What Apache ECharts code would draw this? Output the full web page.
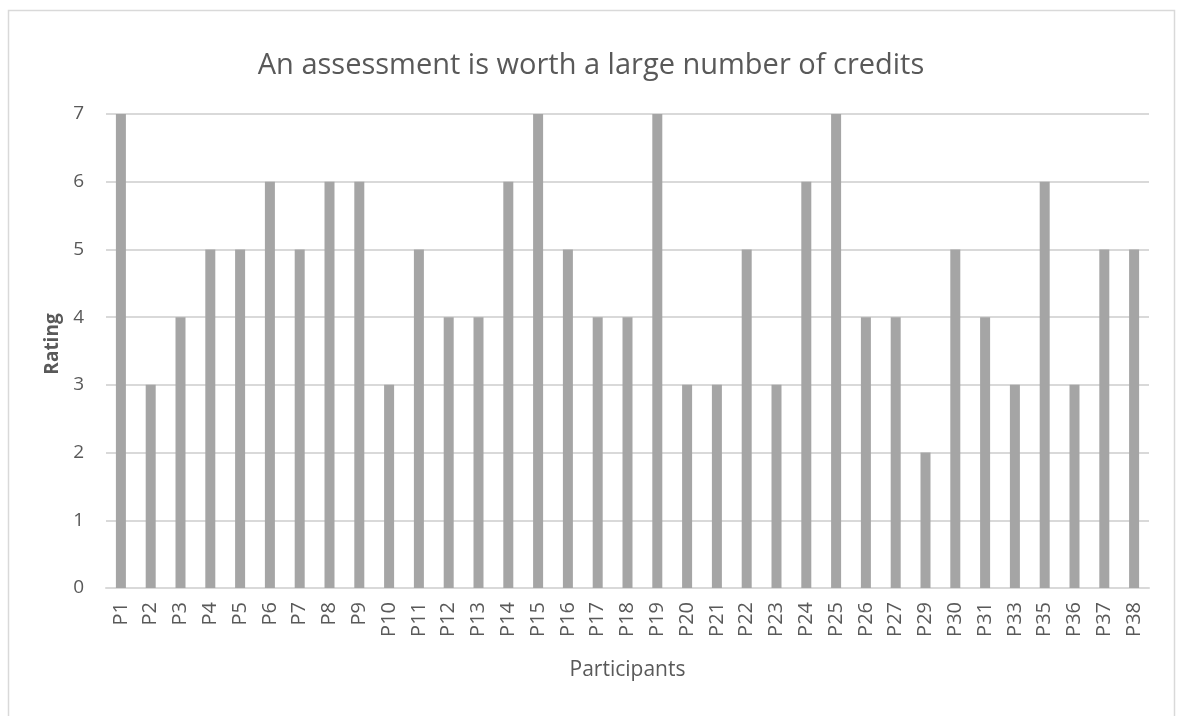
<!DOCTYPE html>
<html>
<head>
<meta charset="utf-8">
<script src="https://cdn.jsdelivr.net/npm/echarts@6/dist/echarts.min.js"></script>
<style>
  html, body { margin: 0; padding: 0; background: #ffffff; }
  #chart { width: 1182px; height: 716px; }
</style>
</head>
<body>
<div id="chart"></div>
<script>
// Participants (P28, P32 and P34 are absent)
const participants = ['P1','P2','P3','P4','P5','P6','P7','P8','P9','P10','P11','P12','P13','P14','P15','P16','P17','P18','P19','P20','P21','P22','P23','P24','P25','P26','P27','P29','P30','P31','P33','P35','P36','P37','P38'];
// Rating given by each participant
const ratings = [7,3,4,5,5,6,5,6,6,3,5,4,4,6,7,5,4,4,7,3,3,5,3,6,7,4,4,2,5,4,3,6,3,5,5];
// Rating scale ticks
const ratingMin = 0;
const ratingMax = 7;
const ratingStep = 1;

const textColor = '#595959';
const fontFamily = '"Open Sans", "Noto Sans", sans-serif';

const chart = echarts.init(document.getElementById('chart'));
chart.setOption({
  animation: false,
  backgroundColor: '#ffffff',
  graphic: [{
    type: 'rect',
    shape: { x: 8.5, y: 10.5, width: 1166, height: 730 },
    style: { fill: 'none', stroke: '#d9d9d9', lineWidth: 1.5 },
    silent: true
  }],
  title: {
    text: 'An assessment is worth a large number of credits',
    left: 'center',
    top: 46,
    textStyle: { color: textColor, fontSize: 29, fontWeight: 'normal', fontFamily: fontFamily }
  },
  grid: { left: 106, right: 33, top: 114, bottom: 128, containLabel: false },
  xAxis: {
    type: 'category',
    data: participants,
    name: 'Participants',
    nameLocation: 'middle',
    nameGap: 72,
    nameTextStyle: { color: textColor, fontSize: 21, fontFamily: fontFamily },
    axisLine: { show: true, lineStyle: { color: '#d9d9d9', width: 2 } },
    axisTick: { show: false },
    axisLabel: { rotate: 90, interval: 0, color: textColor, fontSize: 20, fontFamily: fontFamily, margin: 14 }
  },
  yAxis: {
    type: 'value',
    min: ratingMin,
    max: ratingMax,
    interval: ratingStep,
    name: 'Rating',
    nameLocation: 'middle',
    nameGap: 43,
    nameRotate: 90,
    nameTextStyle: { color: textColor, fontSize: 19, fontWeight: 'bold', fontFamily: fontFamily, padding: [0, 0, 0, 14] },
    axisLine: { show: false },
    axisTick: { show: false },
    axisLabel: { color: textColor, fontSize: 19, fontFamily: fontFamily, margin: 22 },
    splitLine: { lineStyle: { color: '#d9d9d9', width: 2 } }
  },
  series: [{
    type: 'bar',
    data: ratings,
    barWidth: 10,
    itemStyle: { color: '#a5a5a5' }
  }]
});
</script>
</body>
</html>
